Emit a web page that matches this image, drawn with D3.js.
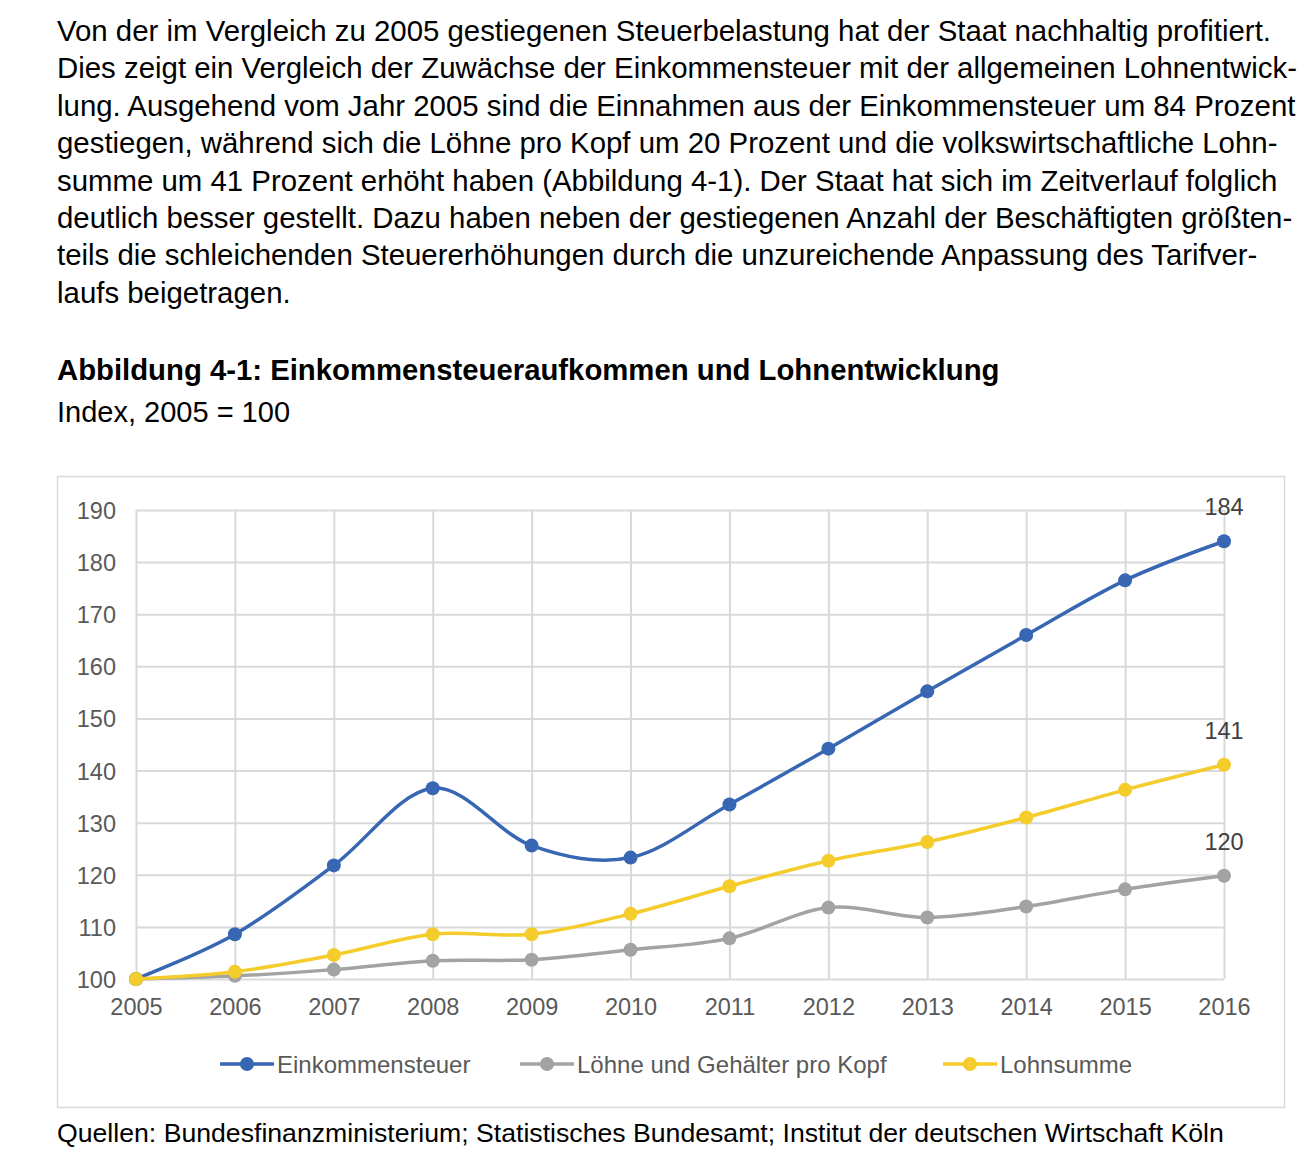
<!DOCTYPE html>
<html>
<head>
<meta charset="utf-8">
<script src="https://cdn.jsdelivr.net/npm/d3@7"></script>
<style>
  body { margin: 0; background: #fff; }
  text { font-family: "Liberation Sans", Arial, sans-serif; }
</style>
</head>
<body>
<svg id="chart" width="1302" height="1160"></svg>
<script>
// --- data ---
var years = [2005, 2006, 2007, 2008, 2009, 2010, 2011, 2012, 2013, 2014, 2015, 2016];
var einkommensteuer = [100, 108.6, 121.8, 136.6, 125.6, 123.3, 133.5, 144.2, 155.2, 166.0, 176.5, 184.0];
var loehneProKopf   = [100, 100.6, 101.8, 103.5, 103.7, 105.6, 107.8, 113.7, 111.8, 113.9, 117.2, 119.8];
var lohnsumme       = [100, 101.4, 104.6, 108.6, 108.6, 112.5, 117.8, 122.7, 126.3, 131.0, 136.3, 141.1];
var seriesNames = ["Einkommensteuer", "Löhne und Gehälter pro Kopf", "Lohnsumme"];
var seriesColors = ["#3766b3", "#a3a3a3", "#f4cc2b"];
var yTicks = [100, 110, 120, 130, 140, 150, 160, 170, 180, 190];

var paragraph = [
  "Von der im Vergleich zu 2005 gestiegenen Steuerbelastung hat der Staat nachhaltig profitiert.",
  "Dies zeigt ein Vergleich der Zuwächse der Einkommensteuer mit der allgemeinen Lohnentwick-",
  "lung. Ausgehend vom Jahr 2005 sind die Einnahmen aus der Einkommensteuer um 84 Prozent",
  "gestiegen, während sich die Löhne pro Kopf um 20 Prozent und die volkswirtschaftliche Lohn-",
  "summe um 41 Prozent erhöht haben (Abbildung 4-1). Der Staat hat sich im Zeitverlauf folglich",
  "deutlich besser gestellt. Dazu haben neben der gestiegenen Anzahl der Beschäftigten größten-",
  "teils die schleichenden Steuererhöhungen durch die unzureichende Anpassung des Tarifver-",
  "laufs beigetragen."
];
var title = "Abbildung 4-1: Einkommensteueraufkommen und Lohnentwicklung";
var subtitle = "Index, 2005 = 100";
var source = "Quellen: Bundesfinanzministerium; Statistisches Bundesamt; Institut der deutschen Wirtschaft Köln";

var series = [einkommensteuer, loehneProKopf, lohnsumme].map(function (vals, i) {
  return {
    name: seriesNames[i],
    color: seriesColors[i],
    values: vals.map(function (v, j) { return { year: years[j], value: v }; })
  };
});

var svg = d3.select("#chart");

// --- text block ---
svg.append("g").selectAll("text")
  .data(paragraph)
  .enter().append("text")
  .attr("x", 57)
  .attr("y", function (d, i) { return 41 + i * 37.4; })
  .style("font-size", "29.4px")
  .attr("fill", "#000")
  .text(function (d) { return d; });

svg.append("text")
  .attr("x", 57).attr("y", 380)
  .style("font-size", "29.3px").style("font-weight", "bold")
  .attr("fill", "#000")
  .text(title);

svg.append("text")
  .attr("x", 57).attr("y", 422)
  .style("font-size", "29px")
  .attr("fill", "#000")
  .text(subtitle);

// chart frame
svg.append("rect")
  .attr("x", 57.5).attr("y", 476.5)
  .attr("width", 1227).attr("height", 631)
  .attr("fill", "#fff")
  .attr("stroke", "#d9d9d9")
  .attr("stroke-width", 1.5);

svg.append("text")
  .attr("x", 57).attr("y", 1142)
  .style("font-size", "26.65px")
  .attr("fill", "#000")
  .text(source);

// --- plot ---
var plotLeft = 136, plotRight = 1224, plotTop = 510, plotBottom = 979;

var x = d3.scaleLinear().domain([2005, 2016]).range([plotLeft, plotRight]);
var y = d3.scaleLinear().domain([100, 190]).range([plotBottom, plotTop]);

var yAxis = svg.append("g")
  .attr("transform", "translate(" + plotLeft + ",0)")
  .call(d3.axisLeft(y).tickValues(yTicks).tickSize(-(plotRight - plotLeft)).tickPadding(20));
yAxis.select(".domain").remove();
yAxis.selectAll("line").attr("stroke", "#d9d9d9").attr("stroke-width", 2);
yAxis.selectAll("text")
  .attr("fill", "#595959")
  .style("font-size", "23.5px")
  .attr("dy", "0.36em");

var xAxis = svg.append("g")
  .attr("transform", "translate(0," + plotBottom + ")")
  .call(d3.axisBottom(x).tickValues(years).tickFormat(d3.format("d"))
    .tickSize(-(plotBottom - plotTop)).tickPadding(19));
xAxis.select(".domain").remove();
xAxis.selectAll("line").attr("stroke", "#d9d9d9").attr("stroke-width", 2);
xAxis.selectAll("text")
  .attr("fill", "#595959")
  .style("font-size", "23.5px");

var line = d3.line()
  .x(function (d) { return x(d.year); })
  .y(function (d) { return y(d.value); })
  .curve(d3.curveCardinal.tension(0));

series.forEach(function (s) {
  var g = svg.append("g");
  g.append("path")
    .datum(s.values)
    .attr("d", line)
    .attr("fill", "none")
    .attr("stroke", s.color)
    .attr("stroke-width", 3.5);
  g.selectAll("circle")
    .data(s.values)
    .enter().append("circle")
    .attr("cx", function (d) { return x(d.year); })
    .attr("cy", function (d) { return y(d.value); })
    .attr("r", 7)
    .attr("fill", s.color);
});

// end labels
series.forEach(function (s) {
  var last = s.values[s.values.length - 1];
  svg.append("text")
    .attr("x", x(last.year))
    .attr("y", y(last.value) - 26)
    .attr("text-anchor", "middle")
    .style("font-size", "23.5px")
    .attr("fill", "#404040")
    .text(Math.round(last.value));
});

// legend
var legendX = [220, 520, 943];
var legend = svg.append("g").selectAll("g")
  .data(series)
  .enter().append("g")
  .attr("transform", function (d, i) { return "translate(" + legendX[i] + ",1064)"; });
legend.append("line")
  .attr("x1", 0).attr("x2", 54)
  .attr("stroke", function (d) { return d.color; })
  .attr("stroke-width", 3.5);
legend.append("circle")
  .attr("cx", 27).attr("r", 7)
  .attr("fill", function (d) { return d.color; });
legend.append("text")
  .attr("x", 57).attr("y", 8.5)
  .style("font-size", "24px")
  .attr("fill", "#595959")
  .text(function (d) { return d.name; });
</script>
</body>
</html>
